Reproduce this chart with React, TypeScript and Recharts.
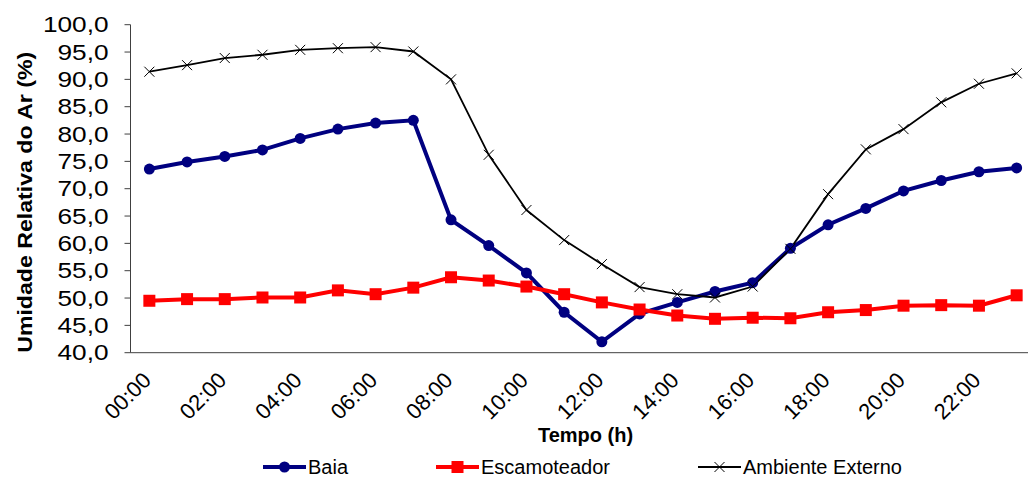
import { LineChart, Line, XAxis, YAxis, Legend, Label } from 'recharts';

const horas = [
  '00:00', '01:00', '02:00', '03:00', '04:00', '05:00', '06:00', '07:00',
  '08:00', '09:00', '10:00', '11:00', '12:00', '13:00', '14:00', '15:00',
  '16:00', '17:00', '18:00', '19:00', '20:00', '21:00', '22:00', '23:00',
];

const baia = [73.6, 74.9, 75.9, 77.1, 79.2, 80.9, 82.0, 82.5, 64.3, 59.6, 54.6, 47.4, 42.0, 47.1, 49.2, 51.2, 52.8, 59.1, 63.4, 66.4, 69.6, 71.5, 73.1, 73.8];
const escamoteador = [49.5, 49.8, 49.8, 50.1, 50.1, 51.4, 50.7, 51.9, 53.8, 53.2, 52.1, 50.7, 49.2, 47.9, 46.8, 46.2, 46.4, 46.3, 47.4, 47.8, 48.6, 48.7, 48.6, 50.5];
const ambiente = [91.4, 92.6, 93.9, 94.5, 95.4, 95.7, 95.9, 95.1, 90.0, 76.2, 66.1, 60.6, 56.2, 52.0, 50.7, 50.1, 52.1, 59.0, 69.0, 77.2, 80.9, 85.8, 89.2, 91.1];

const yTicks = [40, 45, 50, 55, 60, 65, 70, 75, 80, 85, 90, 95, 100];
const serieOrder = ['baia', 'escamoteador', 'ambiente'];

// category i sits in the middle of [i, i+1], Excel style
const data = horas.map((h, i) => ({
  t: i + 0.5,
  hora: h,
  baia: baia[i],
  escamoteador: escamoteador[i],
  ambiente: ambiente[i],
}));
const boundaryTicks = horas.map((_, i) => i).concat(horas.length);
const labelTicks = horas.map((_, i) => i + 0.5).filter((_, i) => i % 2 === 0);

const FONT = '"Liberation Sans", Arial, sans-serif';
const NAVY = '#000080';
const RED = '#ff0000';
const AXIS = '#404040';

const fmt = (v: number) => v.toFixed(1).replace('.', ',');

const YTick = (props: any) => {
  const { x, y, payload } = props;
  return (
    <g transform={`translate(${x},${y}) scale(1.22,1)`}>
      <text x={0} y={0} dy="0.36em" textAnchor="end" fontSize={21.5} fontFamily={FONT} fill="#000">
        {fmt(payload.value)}
      </text>
    </g>
  );
};

const XTick = (props: any) => {
  const { x, y, payload } = props;
  const label = horas[Math.floor(payload.value)];
  return (
    <g transform={`translate(${x + 3},${y + 21})`}>
      <text x={0} y={0} textAnchor="end" transform="rotate(-45)" fontSize={22} fontFamily={FONT} fill="#000">
        {label}
      </text>
    </g>
  );
};

const CircleDot = (props: any) => {
  const { cx, cy } = props;
  return <circle key={`b${props.index}`} cx={cx} cy={cy} r={5.5} fill={NAVY} />;
};

const SquareDot = (props: any) => {
  const { cx, cy } = props;
  return <rect key={`e${props.index}`} x={cx - 6} y={cy - 6} width={12} height={12} fill={RED} />;
};

const CrossDot = (props: any) => {
  const { cx, cy } = props;
  return (
    <path
      key={`a${props.index}`}
      d={`M${cx - 5},${cy - 5}L${cx + 5},${cy + 5}M${cx - 5},${cy + 5}L${cx + 5},${cy - 5}`}
      stroke="#000"
      strokeWidth={1}
      fill="none"
    />
  );
};

const LegendIcon = ({ kind }: { kind: string }) => (
  <svg width={43} height={14} style={{ display: 'block' }}>
    {kind === 'baia' && (
      <>
        <line x1={0} y1={7} x2={43} y2={7} stroke={NAVY} strokeWidth={4} />
        <circle cx={21.5} cy={7} r={5.5} fill={NAVY} />
      </>
    )}
    {kind === 'escamoteador' && (
      <>
        <line x1={0} y1={7} x2={43} y2={7} stroke={RED} strokeWidth={4} />
        <rect x={15.5} y={1} width={12} height={12} fill={RED} />
      </>
    )}
    {kind === 'ambiente' && (
      <>
        <line x1={0} y1={7} x2={43} y2={7} stroke="#000" strokeWidth={1.8} />
        <path d="M16.5,2L26.5,12M16.5,12L26.5,2" stroke="#000" strokeWidth={1} />
      </>
    )}
  </svg>
);

const LegendContent = (props: any) => {
  const items = [...(props.payload || [])].sort(
    (a: any, b: any) => serieOrder.indexOf(a.dataKey) - serieOrder.indexOf(b.dataKey)
  );
  return (
    <div
      style={{
        height: 40,
        boxSizing: 'border-box',
        paddingTop: 12,
        display: 'flex',
        alignItems: 'center',
        gap: 88,
        fontFamily: FONT,
        fontSize: 20,
        color: '#000',
      }}
    >
      {items.map((it: any) => (
        <div key={it.dataKey} style={{ display: 'flex', alignItems: 'center', gap: 2 }}>
          <LegendIcon kind={it.dataKey} />
          <span>{it.value}</span>
        </div>
      ))}
    </div>
  );
};

export default function App() {
  return (
    <div style={{ position: 'fixed', left: 0, top: 0, width: 1028, height: 481, overflow: 'hidden', background: '#fff' }}>
      <LineChart width={1045} height={481} data={data} margin={{ top: 24.7, right: 9.5, left: 0, bottom: 0 }}>
        <YAxis
          domain={[40, 100]}
          ticks={yTicks}
          width={130.5}
          tickSize={6}
          tickMargin={16}
          tick={<YTick />}
          stroke={AXIS}
          interval={0}
        >
          <Label
            content={({ viewBox }: any) => (
              <text
                x={viewBox.x + 25}
                y={viewBox.y + viewBox.height / 2 + 13.6}
                transform={`rotate(-90, ${viewBox.x + 25}, ${viewBox.y + viewBox.height / 2 + 13.6})`}
                textAnchor="middle"
                dy="0.35em"
                fontSize={21}
                fontWeight="bold"
                fontFamily={FONT}
                textLength={301}
                lengthAdjust="spacingAndGlyphs"
                fill="#000"
              >
                Umidade Relativa do Ar (%)
              </text>
            )}
          />
        </YAxis>
        <XAxis
          xAxisId="cat"
          dataKey="t"
          type="number"
          domain={[0, 24]}
          ticks={boundaryTicks}
          interval={0}
          height={8}
          tickSize={6}
          tick={false}
          stroke={AXIS}
        />
        <XAxis
          xAxisId="lbl"
          dataKey="t"
          type="number"
          domain={[0, 24]}
          ticks={labelTicks}
          interval={0}
          height={80.3}
          tickSize={0}
          tickMargin={0}
          axisLine={false}
          tickLine={false}
          tick={<XTick />}
        >
          <Label
            content={({ viewBox }: any) => (
              <text
                x={viewBox.x + viewBox.width / 2 + 2.5}
                y={viewBox.y + 81.3}
                textAnchor="middle"
                fontSize={20}
                fontWeight="bold"
                fontFamily={FONT}
                fill="#000"
              >
                Tempo (h)
              </text>
            )}
          />
        </XAxis>
        <Legend
          verticalAlign="bottom"
          align="left"
          content={<LegendContent />}
          wrapperStyle={{ left: 263, bottom: 0, width: 720, height: 40 }}
        />
        <Line
          xAxisId="cat"
          type="linear"
          dataKey="baia"
          name="Baia"
          stroke={NAVY}
          strokeWidth={4}
          dot={<CircleDot />}
          activeDot={false}
          isAnimationActive={false}
        />
        <Line
          xAxisId="cat"
          type="linear"
          dataKey="escamoteador"
          name="Escamoteador"
          stroke={RED}
          strokeWidth={4}
          dot={<SquareDot />}
          activeDot={false}
          isAnimationActive={false}
        />
        <Line
          xAxisId="cat"
          type="linear"
          dataKey="ambiente"
          name="Ambiente Externo"
          stroke="#000"
          strokeWidth={1.8}
          dot={<CrossDot />}
          activeDot={false}
          isAnimationActive={false}
        />
      </LineChart>
    </div>
  );
}
